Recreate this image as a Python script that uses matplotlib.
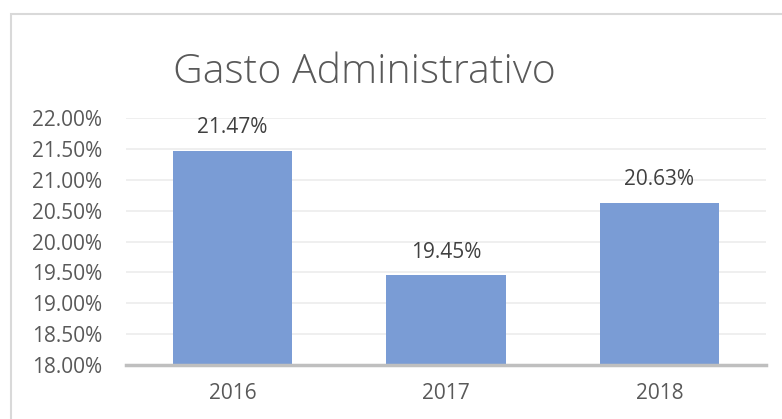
import matplotlib.pyplot as plt
from matplotlib.patches import Rectangle
from matplotlib.ticker import FuncFormatter, MultipleLocator

years = ["2016", "2017", "2018"]
gasto = [21.47, 19.45, 20.63]
bar_labels = ["21.47%", "19.45%", "20.63%"]

plt.rcParams['font.family'] = ['Open Sans', 'DejaVu Sans']
txt = '#595959'

fig = plt.figure(figsize=(7.82, 4.19), dpi=100)
W, H = 782, 419
ax = fig.add_axes([126 / W, 1 - 365 / H, 640 / W, (365 - 118) / H])

# chart border (right/bottom are cropped off in the reference)
fig.patches.append(Rectangle((11 / W, -0.1), 1.2, 1 - 14 / H + 0.1,
                             transform=fig.transFigure, fill=False,
                             edgecolor='#d9d9d9', linewidth=1.5))

x = range(len(years))
ax.bar(x, gasto, width=0.56, color='#7a9cd5', zorder=3)
for i, v in enumerate(gasto):
    ax.annotate(bar_labels[i], (i, v), xytext=(0, 9), textcoords='offset points',
                ha='center', va='bottom', fontsize=15, color='#404040')

ax.set_ylim(18, 22)
ax.set_xlim(-0.5, 2.5)
ax.yaxis.set_major_locator(MultipleLocator(0.5))
ax.yaxis.set_major_formatter(FuncFormatter(lambda v, p: f"{v:.2f}%"))
ax.set_xticks(list(x))
ax.set_xticklabels(years)
ax.tick_params(axis='both', length=0, labelsize=15, labelcolor=txt)
ax.tick_params(axis='y', pad=17)
ax.tick_params(axis='x', pad=13)
ax.grid(axis='y', color='#ececec', linewidth=1.2, zorder=0)
for s in ['top', 'right', 'left']:
    ax.spines[s].set_visible(False)
ax.spines['bottom'].set_color('#bfbfbf')
ax.spines['bottom'].set_linewidth(2.5)
ax.spines['bottom'].set_zorder(4)

fig.text(173 / W, 1 - 83 / H, "Gasto Administrativo", fontsize=29.5, fontweight='light',
         color=txt, ha='left', va='baseline')

fig.savefig('out.png', dpi=100)
